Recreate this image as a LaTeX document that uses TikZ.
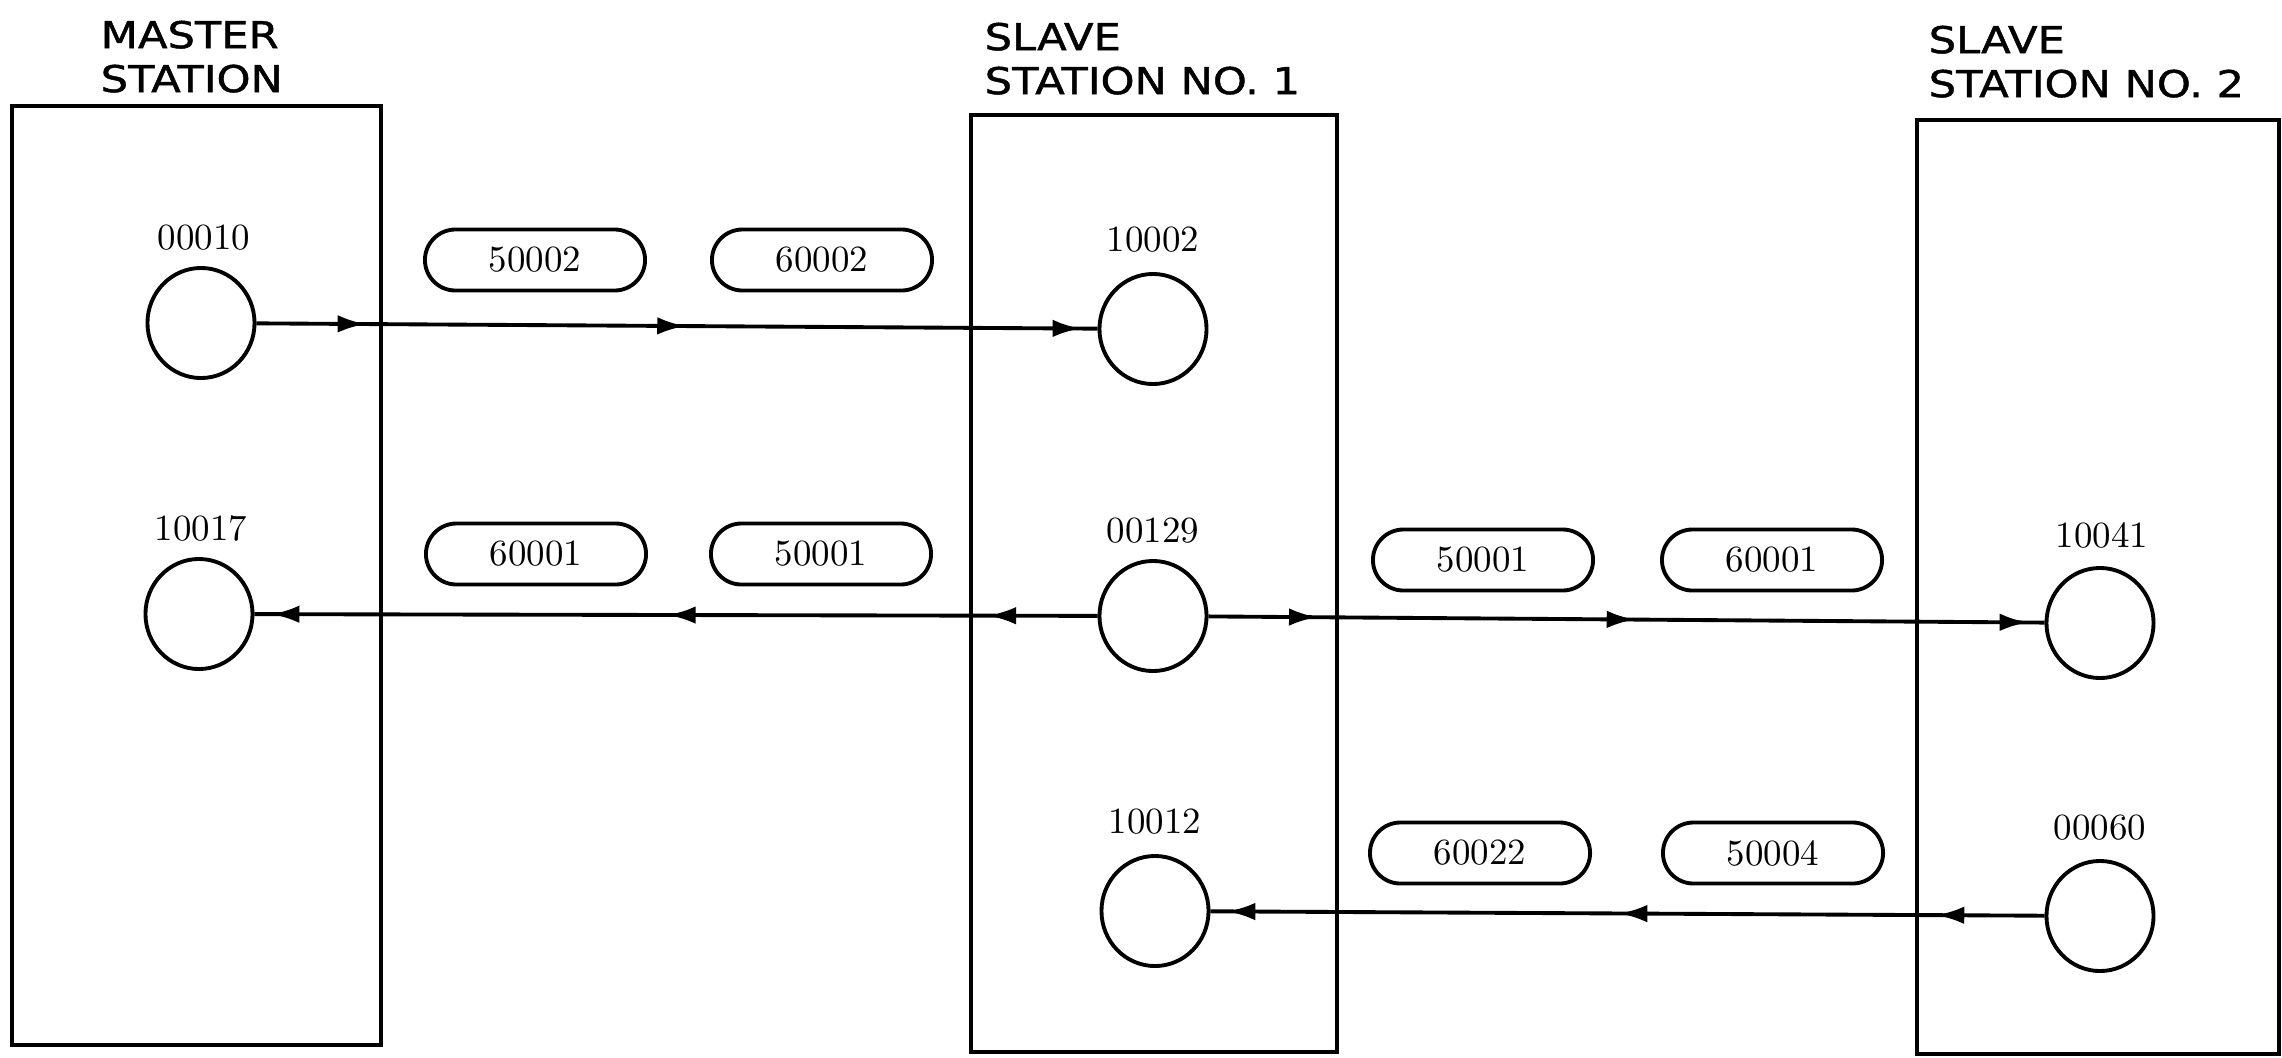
\documentclass[tikz,border=0pt]{standalone}
\usepackage{fontspec}
\usepackage{tikz}
\usetikzlibrary{arrows.meta,shapes.geometric,shapes.misc,decorations.markings}
\newfontfamily\stationfont[FakeStretch=1.17,FakeBold=1.2]{DejaVu Sans}
\tikzset{
  station/.style={draw,line width=1.1pt},
  stationname/.style={anchor=north west,inner sep=0pt,align=left,font=\stationfont\fontsize{10.5}{12.5}\selectfont},
  port/.style={draw,ellipse,line width=1.1pt,minimum width=1.07cm,minimum height=1.1cm,inner sep=0pt},
  portno/.style={inner sep=0pt,font=\fontsize{10.5}{12}\selectfont},
  word/.style={draw,rounded rectangle,line width=1.1pt,minimum width=2.2cm,minimum height=0.61cm,inner sep=0pt,font=\fontsize{10.5}{12}\selectfont},
  flow/.style={line width=1.1pt,decoration={markings,
      mark=at position 0.13 with {\arrow{Latex[length=8pt,width=5pt]}},
      mark=at position 0.51 with {\arrow{Latex[length=8pt,width=5pt]}},
      mark=at position 0.98 with {\arrow{Latex[length=8pt,width=5pt]}}},postaction={decorate}}
}
\begin{document}
\begin{tikzpicture}[x=0.01cm,y=-0.01cm]
  \useasboundingbox (0,0) rectangle (2282,1057);
  % the three stations
  \draw[station] (12,106) rectangle (381,1045);
  \draw[station] (971,115) rectangle (1337,1052);
  \draw[station] (1917,120) rectangle (2279,1054);
  \node[stationname] (mname) at (100,20) {MASTER\\STATION};
  \node[stationname] (s1name) at (984,22) {SLAVE\\STATION NO. 1};
  \node[stationname] (s2name) at (1928,25) {SLAVE\\STATION NO. 2};
  % ports and their numbers
  \node[port] (m1) at (201,323) {};
  \node[port] (m2) at (199,614) {};
  \node[port] (s1a) at (1153,329) {};
  \node[port] (s1b) at (1153,616) {};
  \node[port] (s1c) at (1155,911) {};
  \node[port] (s2a) at (2100,623) {};
  \node[port] (s2b) at (2100,916) {};
  \node[portno] (m1no) at (204,238) {00010};
  \node[portno] (m2no) at (201,528) {10017};
  \node[portno] (s1ano) at (1153,240) {10002};
  \node[portno] (s1bno) at (1153,531) {00129};
  \node[portno] (s1cno) at (1155,822) {10012};
  \node[portno] (s2ano) at (2102,535) {10041};
  \node[portno] (s2bno) at (2100,828) {00060};
  % words sent along each link
  \node[word] (w1a) at (535,260) {50002};
  \node[word] (w1b) at (822,260) {60002};
  \node[word] (w2a) at (536,554) {60001};
  \node[word] (w2b) at (821,554) {50001};
  \node[word] (w2c) at (1483,560) {50001};
  \node[word] (w2d) at (1772,560) {60001};
  \node[word] (w3a) at (1480,853) {60022};
  \node[word] (w3b) at (1773,853) {50004};
  % links
  \draw[flow] (m1) -- (s1a);
  \draw[flow] (s1b) -- (m2);
  \draw[flow] (s1b) -- (s2a);
  \draw[flow] (s2b) -- (s1c);
\end{tikzpicture}
\end{document}
